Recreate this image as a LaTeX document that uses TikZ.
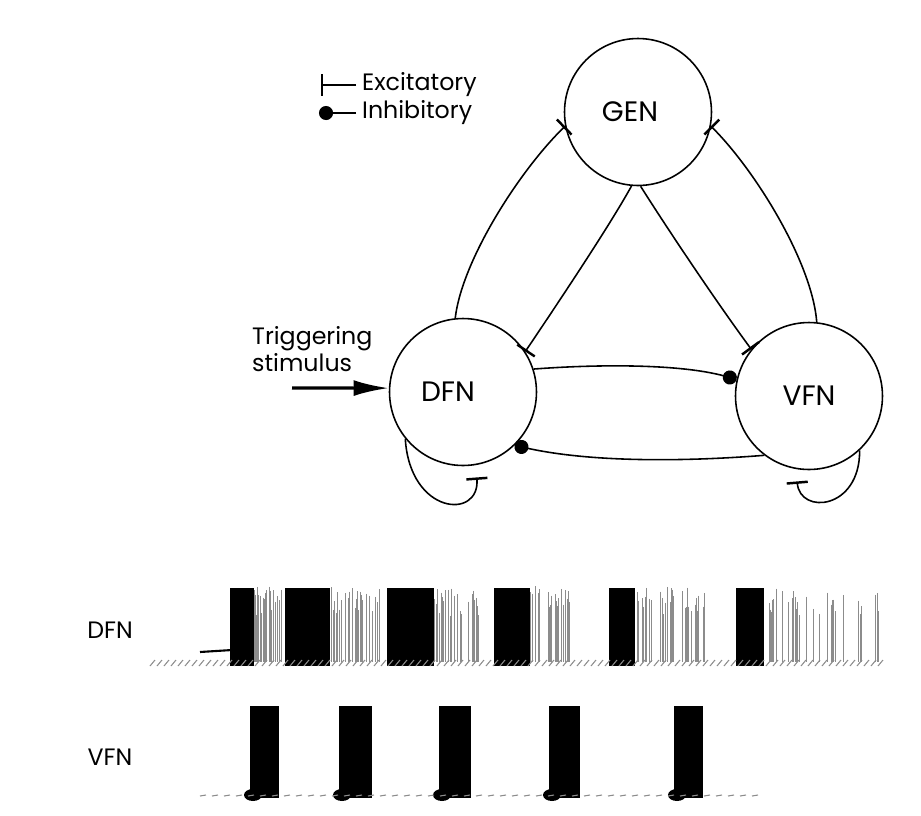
\documentclass[tikz,border=0pt]{standalone}
\usepackage{fontspec}
\setmainfont{Poppins}
\usetikzlibrary{arrows.meta}

\begin{document}
\begin{tikzpicture}[x=0.02cm, y=-0.02cm,
    cell/.style={draw=black, circle, line width=0.9pt, minimum size=2.94cm,
        inner sep=0pt, font=\fontsize{16}{18}\selectfont},
    excite/.style={-{Bar[width=12pt, line width=1.4pt]}, line width=0.9pt, black},
    inhibit/.style={-{Circle[length=8pt]}, line width=0.9pt, black},
    trigger/.style={-{Latex[length=20pt, width=9pt]}, line width=1.8pt, black},
    lab/.style={font=\fontsize{13.5}{15.5}\selectfont, align=left},
    burst/.style={fill=black},
    spike/.style={black!45, line width=0.35pt},
    noise/.style={black!45, line width=0.6pt}
]
\useasboundingbox (0,0) rectangle (921,816);
% network
\node[cell, label={[xshift=-0.16cm, font=\fontsize{16}{18}\selectfont]center:GEN}] (GEN) at (638,112) {};
\node[cell, label={[xshift=-0.3cm, font=\fontsize{16}{18}\selectfont]center:DFN}] (DFN) at (463,392) {};
\node[cell] (VFN) at (809,396) {VFN};
\draw[excite] (DFN.96) .. controls (462,260) and (520,170) .. (GEN.191);
\draw[excite] (VFN.84) .. controls (812,262) and (755,170) .. (GEN.349);
\draw[excite] (GEN.265) .. controls (610,225) and (560,300) .. (DFN.33);
\draw[excite] (GEN.272) .. controls (665,225) and (715,300) .. (VFN.141);
\draw[inhibit] (DFN.18) .. controls (600,364) and (680,364) .. (VFN.167);
\draw[inhibit] (VFN.233) .. controls (680,462) and (590,462) .. (DFN.314);
\draw[excite, shorten >=7pt] (DFN.219) .. controls (410,515) and (480,520) .. (DFN.-80);
\draw[excite, shorten >=7pt] (VFN.313) .. controls (860,510) and (800,515) .. (VFN.260);
% legend
\node[lab, anchor=west] (Exc) at (356,85) {Excitatory};
\node[lab, anchor=west] (Inh) at (356,113) {Inhibitory};
\coordinate (excbar) at (321,85);
\coordinate (inhdot) at (319,113);
\draw[excite] (Exc.west) -- (excbar);
\draw[inhibit] (Inh.west) -- (inhdot);
% stimulus
\node[lab, anchor=north west] (stimtext) at (246,320) {Triggering\\stimulus};
\coordinate (stim) at (292,388);
\draw[trigger] (stim) -- (DFN.177);
% DFN recording
\node[lab] (dfnrec) at (110,630) {DFN};
\pgfmathsetseed{42}
\foreach \xa/\xb/\xc in {230/254/282, 285/330/380, 387/434/478, 494/530/570, 609/635/705, 736/764/884}{
  \foreach \k in {1,...,34}{
    \pgfmathsetmacro{\xs}{\xb+rnd*(\xc-\xb)}
    \pgfmathsetmacro{\ys}{586+rnd*30}
    \draw[spike] (\xs,\ys) -- (\xs,662);
  }
  \fill[burst] (\xa,588) rectangle (\xb,666);
}
\foreach \x in {150,157,...,880}
  \draw[noise] (\x,666) -- ++(5,-6);
\draw[line width=1.2pt] (200,652) -- (232,650);
% VFN recording
\node[lab] (vfnrec) at (110,757) {VFN};
\foreach \xa/\xb in {250/279, 339/372, 439/471, 549/580, 674/703}{
  \fill[burst] (\xa,706) rectangle (\xb,798);
  \fill[burst] (\xa+3,795) ellipse [x radius=0.18cm, y radius=0.12cm];
}
\foreach \x in {200,212,...,760}
  \draw[noise] (\x,796) -- ++(6,-1);
\end{tikzpicture}
\end{document}
